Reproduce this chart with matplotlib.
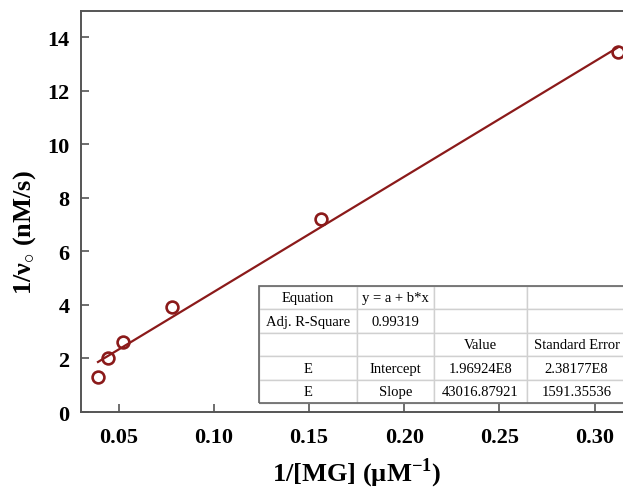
import numpy as np
import matplotlib
matplotlib.use("Agg")
import matplotlib.pyplot as plt
from matplotlib.patches import Rectangle

# Lineweaver-Burk data
inv_mg = [0.0391, 0.0446, 0.0521, 0.0781, 0.1563, 0.3125]
inv_v = [1.30, 2.02, 2.60, 3.93, 7.20, 13.45]

x_ticks = [0.05, 0.10, 0.15, 0.20, 0.25, 0.30]
y_ticks = [0, 2, 4, 6, 8, 10, 12, 14]

table_rows = [
    ["Equation", "y = a + b*x", "", ""],
    ["Adj. R-Square", "0.99319", "", ""],
    ["", "", "Value", "Standard Error"],
    ["E", "Intercept", "1.96924E8", "2.38177E8"],
    ["E", "Slope", "43016.87921", "1591.35536"],
]

RED = "#8b1a1a"
SPINE = "#555555"

plt.rcParams["font.family"] = ["Liberation Serif", "DejaVu Serif"]
plt.rcParams["mathtext.fontset"] = "custom"
plt.rcParams["mathtext.rm"] = "Liberation Serif"
plt.rcParams["mathtext.bf"] = "Liberation Serif:bold"

fig = plt.figure(figsize=(6.23, 4.89), dpi=100)
ax = fig.add_axes([0.1295, 0.1554, 0.886, 0.821])

# linear fit through the points
b, a = np.polyfit(inv_mg, inv_v, 1)
xs = np.array([min(inv_mg), max(inv_mg)])
ax.plot(xs, a + b * xs, color=RED, lw=1.6, zorder=2)
ax.plot(inv_mg, inv_v, "o", mfc="none", mec=RED, mew=1.9, ms=8.5, zorder=3,
        clip_on=False)

ax.set_xlim(0.03, 0.32)
ax.set_ylim(0, 15)
ax.set_xticks(x_ticks)
ax.set_xticklabels([f"{t:.2f}" for t in x_ticks])
ax.set_yticks(y_ticks)

for s in ax.spines.values():
    s.set_color(SPINE)
    s.set_linewidth(1.4)
ax.tick_params(direction="in", length=6, width=1.2, color=SPINE,
               labelsize=16)
ax.tick_params(axis="x", pad=11)
ax.tick_params(axis="y", pad=8)
for lab in ax.get_xticklabels() + ax.get_yticklabels():
    lab.set_fontweight("bold")

ax.set_xlabel("1/[MG] (µM$^{\\mathbf{-1}}$)", fontsize=19, fontweight="bold",
              labelpad=6)
ax.set_ylabel("1/ν$_{\\circ}$ (nM/s)", fontsize=19, fontweight="bold")
ax.yaxis.set_label_coords(-0.078, 0.45)

# results table
col_w = [0.177, 0.140, 0.168, 0.181]
tx0, ty0, th = 0.323, 0.022, 0.292
tbl = ax.table(cellText=table_rows, cellLoc="center", colWidths=col_w,
               bbox=[tx0, ty0, sum(col_w), th])
tbl.auto_set_font_size(False)
tbl.set_fontsize(10.5)
for cell in tbl.get_celld().values():
    cell.set_edgecolor("#d0d0d0")
    cell.set_linewidth(1.0)
    cell.set_facecolor("white")
ax.add_patch(Rectangle((tx0, ty0), sum(col_w), th, transform=ax.transAxes,
                       fill=False, ec="#666666", lw=1.2, zorder=10,
                       clip_on=False))

fig.savefig("out.png", dpi=100)
